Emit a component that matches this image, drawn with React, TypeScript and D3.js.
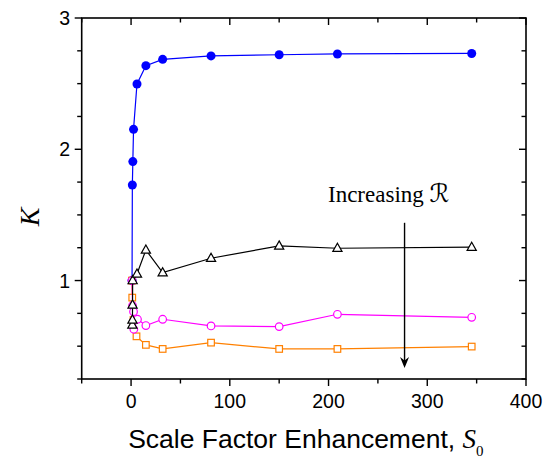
import React from 'react';
import * as d3 from 'd3';

const S0_BLUE = [1, 1.3, 1.8, 2.5, 6, 15, 32, 81, 150, 209, 345];
const K_BLUE = [1.0, 1.728, 1.906, 2.152, 2.497, 2.637, 2.685, 2.711, 2.72, 2.726, 2.73];

const S0_BLACK = [1.3, 1.4, 1.5, 1.6, 6, 15, 32, 81, 150, 209, 345];
const K_BLACK = [0.662, 0.70, 0.814, 1.0, 1.05, 1.233, 1.06, 1.17, 1.264, 1.246, 1.254];

const S0_MAGENTA = [1, 1.5, 2.5, 2.8, 6.5, 15, 32, 81, 150, 209, 345];
const K_MAGENTA = [1.0, 0.81, 0.763, 0.629, 0.705, 0.657, 0.705, 0.654, 0.649, 0.743, 0.72];

const S0_ORANGE = [1, 1.2, 2.5, 5.5, 15, 32, 81, 150, 209, 345];
const K_ORANGE = [1.0, 0.87, 0.70, 0.575, 0.51, 0.479, 0.527, 0.479, 0.479, 0.497];

const X_TICKS = [0, 100, 200, 300, 400];
const X_MINOR = [-50, 50, 150, 250, 350];
const Y_TICKS = [1, 2, 3];
const Y_MINOR = [0.25, 0.5, 0.75, 1.25, 1.5, 1.75, 2.25, 2.5, 2.75];

const ARROW_X = 277;
const ARROW_K = [1.44, 0.334];
const LABEL_POS = [261, 1.6];

const W = 553, H = 459;
const L = 81.7, R = 526, T = 18, B = 379;

export default function App() {
  const x = d3.scaleLinear().domain([-50, 400]).range([L, R]);
  const y = d3.scaleLinear().domain([0.25, 3]).range([B, T]);
  const line = (xs: number[], ks: number[]) =>
    d3.line<number>().x((_, i) => x(xs[i])).y((d) => y(d))(ks) || '';
  const sans = "'Liberation Sans', Arial, sans-serif";
  const serif = "'Liberation Serif', 'Times New Roman', serif";
  const tri = (cx: number, cy: number) =>
    `M${cx},${cy - 5}L${cx + 4.6},${cy + 3.2}L${cx - 4.6},${cy + 3.2}Z`;
  const ax = x(ARROW_X);
  const ay1 = y(ARROW_K[0]);
  const ay2 = y(ARROW_K[1]);
  return (
    <svg width={W} height={H} style={{ position: 'absolute', left: 0, top: 0, background: '#fff' }}>
      <rect x={0} y={0} width={W} height={H} fill="#fff" />
      <rect x={L} y={T} width={R - L} height={B - T} fill="none" stroke="#000" strokeWidth={1.6} />
      {X_TICKS.map((t) => (
        <g key={'xb' + t}>
          <line x1={x(t)} x2={x(t)} y1={B} y2={B + 7} stroke="#000" strokeWidth={1.4} />
          <line x1={x(t)} x2={x(t)} y1={T} y2={T + 7} stroke="#000" strokeWidth={1.4} />
          <text x={x(t)} y={408} textAnchor="middle" fontFamily={sans} fontSize={19.5} fill="#000">{t}</text>
        </g>
      ))}
      {X_MINOR.map((t) => (
        <g key={'xm' + t}>
          <line x1={x(t)} x2={x(t)} y1={B} y2={B + 4.5} stroke="#000" strokeWidth={1.4} />
          <line x1={x(t)} x2={x(t)} y1={T} y2={T + 4.5} stroke="#000" strokeWidth={1.4} />
        </g>
      ))}
      {Y_TICKS.map((t) => (
        <g key={'y' + t}>
          <line x1={L - 7} x2={L} y1={y(t)} y2={y(t)} stroke="#000" strokeWidth={1.4} />
          <line x1={R - 7} x2={R} y1={y(t)} y2={y(t)} stroke="#000" strokeWidth={1.4} />
          <text x={70} y={y(t) + 7} textAnchor="end" fontFamily={sans} fontSize={19.5} fill="#000">{t}</text>
        </g>
      ))}
      {Y_MINOR.map((t) => (
        <g key={'ym' + t}>
          <line x1={L - 4.5} x2={L} y1={y(t)} y2={y(t)} stroke="#000" strokeWidth={1.4} />
          <line x1={R - 4.5} x2={R} y1={y(t)} y2={y(t)} stroke="#000" strokeWidth={1.4} />
        </g>
      ))}
      <text x={(L + R) / 2 + 2} y={447.5} textAnchor="middle" fontFamily={sans} fontSize={26.5} fill="#000">
        Scale Factor Enhancement,{' '}
        <tspan fontFamily={serif} fontStyle="italic" fontSize={27}>S</tspan>
        <tspan fontFamily={serif} fontSize={15} dy={8}>0</tspan>
      </text>
      <text transform={`translate(39,217) rotate(-90)`} textAnchor="middle" fontFamily={serif} fontStyle="italic" fontSize={28} fill="#000">K</text>

      <path d={line(S0_BLUE, K_BLUE)} fill="none" stroke="#0000ff" strokeWidth={1.2} />
      {S0_BLUE.map((s, i) => (
        <circle key={'b' + i} cx={x(s)} cy={y(K_BLUE[i])} r={4.5} fill="#0000ff" />
      ))}
      <path d={line(S0_ORANGE, K_ORANGE)} fill="none" stroke="#ff8000" strokeWidth={1.2} />
      {S0_ORANGE.map((s, i) => (
        <rect key={'o' + i} x={x(s) - 3.3} y={y(K_ORANGE[i]) - 3.3} width={6.6} height={6.6} fill="#fff" stroke="#ff8000" strokeWidth={1.2} />
      ))}
      <path d={line(S0_MAGENTA, K_MAGENTA)} fill="none" stroke="#ff00ff" strokeWidth={1.2} />
      {S0_MAGENTA.map((s, i) => (
        <circle key={'m' + i} cx={x(s)} cy={y(K_MAGENTA[i])} r={3.8} fill="#fff" stroke="#ff00ff" strokeWidth={1.2} />
      ))}
      <path d={line(S0_BLACK, K_BLACK)} fill="none" stroke="#000" strokeWidth={1.2} />
      {S0_BLACK.map((s, i) => (
        <path key={'k' + i} d={tri(x(s), y(K_BLACK[i]))} fill="#fff" stroke="#000" strokeWidth={1.2} />
      ))}

      <line x1={ax} x2={ax} y1={ay1} y2={ay2 - 6} stroke="#000" strokeWidth={1.4} />
      <path d={`M${ax},${ay2}L${ax - 4.5},${ay2 - 11}L${ax},${ay2 - 7.5}L${ax + 4.5},${ay2 - 11}Z`} fill="#000" />
      <text x={x(LABEL_POS[0])} y={y(LABEL_POS[1])} textAnchor="middle" fontFamily={serif} fontSize={23} fill="#000">
        Increasing <tspan fontFamily="'DejaVu Serif', 'DejaVu Sans', serif" fontStyle="italic" fontSize={25}>ℛ</tspan>
      </text>
    </svg>
  );
}
